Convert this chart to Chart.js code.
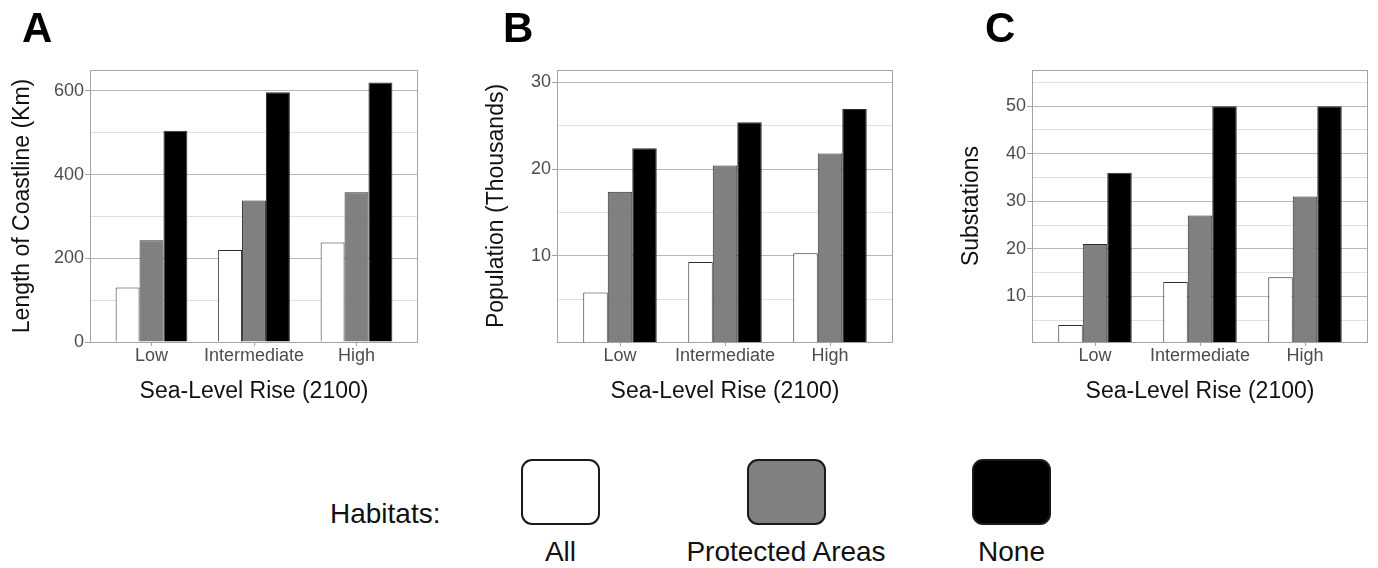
<!DOCTYPE html>
<html>
<head>
<meta charset="utf-8">
<script src="https://cdn.jsdelivr.net/npm/chart.js@4.4.1/dist/chart.umd.min.js"></script>
<style>
  body { margin: 0; background: #fff; font-family: "Liberation Sans", Arial, sans-serif; }
  #page { position: relative; width: 1378px; height: 568px; overflow: hidden; }
  canvas { position: absolute; top: 0; }
  .panelLetter { position: absolute; top: 7px; font: bold 42px/42px "Liberation Sans", Arial, sans-serif; color: #000; }
  .legendTitle { position: absolute; left: 330px; top: 500px; font: 28px/28px "Liberation Sans", Arial, sans-serif; color: #111; }
  .legendBox { position: absolute; top: 459px; width: 79px; height: 66px; box-sizing: border-box; border: 2px solid #1a1a1a; border-radius: 11px; }
  .legendLabel { position: absolute; top: 538px; width: 240px; text-align: center; font: 28px/28px "Liberation Sans", Arial, sans-serif; color: #111; }
</style>
</head>
<body>
<div id="page">
  <canvas id="chartCoast" width="440" height="420" style="left:0px"></canvas>
  <canvas id="chartPop" width="440" height="420" style="left:470px"></canvas>
  <canvas id="chartSubs" width="440" height="420" style="left:938px"></canvas>
  <div class="panelLetter" style="left:22px">A</div>
  <div class="panelLetter" style="left:503px">B</div>
  <div class="panelLetter" style="left:985px">C</div>
  <div class="legendTitle">Habitats:</div>
  <div id="legend"></div>
</div>
<script>
// Sea-level rise exposure, three panels + shared legend
// Librerias: Chart.js

const slrLevels = ['Low', 'Intermediate', 'High'];
const habitats = ['All', 'Protected Areas', 'None'];
const habitatFill = ['#ffffff', '#808080', '#000000'];

// A - Length of coastline (km)
const coastAll = [130, 220, 238];
const coastProtected = [243, 338, 358];
const coastNone = [505, 597, 620];
const coastLabels = [0, 200, 400, 600];

// B - Population (thousands)
const popAll = [5.8, 9.3, 10.3];
const popProtected = [17.4, 20.4, 21.8];
const popNone = [22.4, 25.4, 26.9];
const popLabels = [10, 20, 30];

// C - Substations
const subsAll = [4, 13, 14];
const subsProtected = [21, 27, 31];
const subsNone = [36, 50, 50];
const subsLabels = [10, 20, 30, 40, 50];

const frameColor = '#a3a3a3';
const majorGrid = '#b8b8b8';
const minorGrid = '#e0e0e0';
const tickText = '#4d4d4d';

// panel border like ggplot theme_light
const panelFrame = {
  id: 'panelFrame',
  beforeDatasetsDraw(chart) {
    const {ctx, chartArea: a} = chart;
    ctx.save();
    ctx.strokeStyle = frameColor;
    ctx.lineWidth = 1;
    ctx.strokeRect(Math.round(a.left) + 0.5, Math.round(a.top) + 0.5, Math.round(a.right - a.left) - 1, Math.round(a.bottom - a.top));
    ctx.restore();
  }
};

function drawPanel(id, series, cfg) {
  var ctx = document.getElementById(id).getContext('2d');
  return new Chart(ctx, {
    type: 'bar',
    data: {
      datasets: series.map((vals, k) => ({
        label: habitats[k],
        data: vals.map((v, i) => ({x: i, y: v})),
        backgroundColor: habitatFill[k],
        borderColor: '#2e2e2e',
        borderWidth: 1,
        categoryPercentage: 0.7,
        barPercentage: 1.0,
      }))
    },
    options: {
      responsive: false,
      animation: false,
      layout: {padding: {top: 70, right: cfg.padRight, left: 0, bottom: 0}},
      plugins: {legend: {display: false}, tooltip: {enabled: false}},
      scales: {
        x: {
          type: 'linear',
          min: -0.6,
          max: 2.6,
          offset: false,
          border: {display: false},
          grid: {drawOnChartArea: false, drawTicks: true, tickLength: 4, tickColor: frameColor, offset: false},
          ticks: {
            stepSize: 1, includeBounds: false, autoSkip: false, maxRotation: 0,
            padding: -1, color: tickText,
            font: {family: '"Liberation Sans", Arial, sans-serif', size: 18},
            callback: v => slrLevels[v] ?? ''
          },
          title: {
            display: true, text: 'Sea-Level Rise (2100)', color: '#111',
            font: {family: '"Liberation Sans", Arial, sans-serif', size: 23},
            padding: {top: 0, bottom: 15}
          },
          afterFit: s => { s.height = 78; }
        },
        y: {
          min: cfg.min,
          max: cfg.max,
          border: {display: false},
          grid: {
            tickLength: 5,
            color: c => cfg.labels.includes(c.tick.value) ? majorGrid : minorGrid,
            tickColor: c => cfg.labels.includes(c.tick.value) ? frameColor : 'rgba(0,0,0,0)'
          },
          ticks: {
            stepSize: cfg.step, includeBounds: false, autoSkip: false, maxTicksLimit: 50,
            padding: 1, color: tickText,
            font: {family: '"Liberation Sans", Arial, sans-serif', size: 18},
            callback: v => cfg.labels.includes(v) ? String(v) : ''
          },
          title: {
            display: true, text: cfg.title, color: '#111',
            font: {family: '"Liberation Sans", Arial, sans-serif', size: 23},
            padding: {top: cfg.titlePad, bottom: 0}
          },
          afterFit: s => { s.width = cfg.axisW; }
        }
      }
    },
    plugins: [panelFrame]
  });
}

drawPanel('chartCoast', [coastAll, coastProtected, coastNone], {
  min: 0, max: 650, step: 100, labels: coastLabels,
  title: 'Length of Coastline (Km)', axisW: 90, padRight: 22, titlePad: 9
});
drawPanel('chartPop', [popAll, popProtected, popNone], {
  min: 0.1, max: 31.4, step: 5, labels: popLabels,
  title: 'Population (Thousands)', axisW: 87, padRight: 17, titlePad: 13
});
drawPanel('chartSubs', [subsAll, subsProtected, subsNone], {
  min: 0.4, max: 57.6, step: 5, labels: subsLabels,
  title: 'Substations', axisW: 94, padRight: 10, titlePad: 20
});

// legend built from the habitat arrays
const legend = document.getElementById('legend');
habitats.forEach((name, k) => {
  const cx = 560.5 + k * 225.5;
  const box = document.createElement('div');
  box.className = 'legendBox';
  box.style.left = (cx - 39.5) + 'px';
  box.style.background = habitatFill[k];
  legend.appendChild(box);
  const lab = document.createElement('div');
  lab.className = 'legendLabel';
  lab.style.left = (cx - 120) + 'px';
  lab.textContent = name;
  legend.appendChild(lab);
});
</script>
</body>
</html>
